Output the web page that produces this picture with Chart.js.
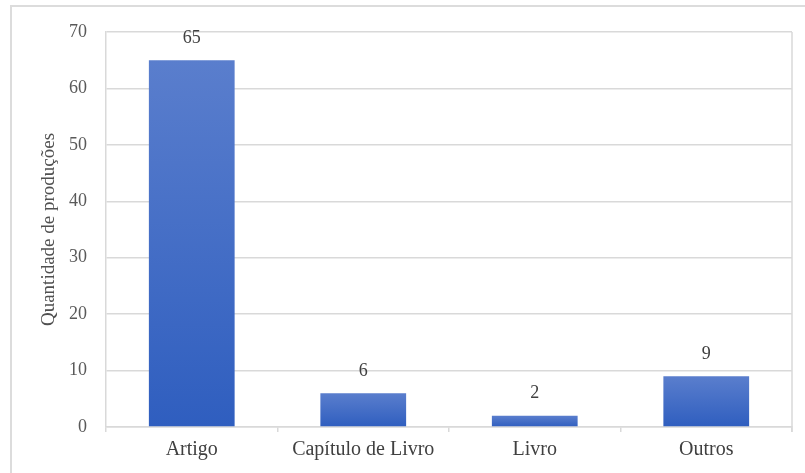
<!DOCTYPE html>
<html>
<head>
<meta charset="utf-8">
<script src="https://cdn.jsdelivr.net/npm/chart.js@4"></script>
<style>
  html, body { margin: 0; padding: 0; background: #ffffff; }
  #wrap { position: relative; width: 805px; height: 473px; overflow: hidden; }
  #frame { position: absolute; left: 10px; top: 5px; width: 820px; height: 500px;
           border-top: 2px solid #dcdcdc; border-left: 2px solid #dcdcdc; box-sizing: border-box; }
  canvas { position: absolute; left: 0; top: 0; }
</style>
</head>
<body>
<div id="wrap">
  <div id="frame"></div>
  <canvas id="chart" width="805" height="473"></canvas>
</div>
<script>
// Production counts by type
const categories = ['Artigo', 'Capítulo de Livro', 'Livro', 'Outros'];
const quantities = [65, 6, 2, 9];
const yTicks = [0, 10, 20, 30, 40, 50, 60, 70];
const yTitle = 'Quantidade de produções';

const FONT = '"Liberation Serif", "Times New Roman", serif';
const GRID = '#d9d9d9';

// Vertical gradient per bar: lighter at the top, deeper at the base
function barGradient(context) {
  const chart = context.chart;
  const { ctx, chartArea, scales } = chart;
  if (!chartArea || context.type !== 'data') return '#4169c6';
  const top = scales.y.getPixelForValue(context.raw);
  const base = scales.y.getPixelForValue(0);
  const g = ctx.createLinearGradient(0, top, 0, base);
  g.addColorStop(0, '#5a7ecd');
  g.addColorStop(1, '#2f5ebf');
  return g;
}

// Value labels above the bars and the right-hand edge of the plot
const decorations = {
  id: 'decorations',
  afterDatasetsDraw(chart) {
    const { ctx, chartArea } = chart;
    ctx.save();
    ctx.strokeStyle = GRID;
    ctx.lineWidth = 1.5;
    ctx.beginPath();
    ctx.moveTo(chartArea.right, chartArea.top);
    ctx.lineTo(chartArea.right, chartArea.bottom + 5);
    ctx.stroke();

    const meta = chart.getDatasetMeta(0);
    ctx.fillStyle = '#404040';
    ctx.font = '18px ' + FONT;
    ctx.textAlign = 'center';
    ctx.textBaseline = 'middle';
    meta.data.forEach((bar, i) => {
      ctx.fillText(String(quantities[i]), bar.x, bar.y - 22);
    });
    ctx.restore();
  }
};

new Chart(document.getElementById('chart'), {
  type: 'bar',
  data: {
    labels: categories,
    datasets: [{
      data: quantities,
      backgroundColor: barGradient,
      borderWidth: 0,
      barPercentage: 0.5,
      categoryPercentage: 1.0
    }]
  },
  options: {
    responsive: false,
    animation: false,
    devicePixelRatio: 1,
    layout: { padding: { left: 30, top: 32, right: 13, bottom: 0 } },
    plugins: { legend: { display: false }, tooltip: { enabled: false } },
    scales: {
      x: {
        grid: { display: true, drawOnChartArea: false, drawTicks: true, tickLength: 5,
                offset: true, color: GRID, tickColor: GRID, lineWidth: 1.5 },
        border: { display: true, color: GRID, width: 1.5 },
        ticks: { color: '#404040', font: { family: FONT, size: 20 }, padding: 6 },
        afterFit(scale) { scale.height = 46; }
      },
      y: {
        min: 0,
        max: 70,
        afterBuildTicks(scale) { scale.ticks = yTicks.map(v => ({ value: v })); },
        grid: { color: GRID, lineWidth: 1.5, drawTicks: false },
        border: { display: true, color: GRID, width: 1.5 },
        ticks: { color: '#595959', font: { family: FONT, size: 18 }, padding: 19 },
        title: { display: true, text: yTitle, color: '#505050',
                 font: { family: FONT, size: 19 }, padding: { top: 8, bottom: 0 } },
        afterFit(scale) { scale.width = 76; }
      }
    }
  },
  plugins: [decorations]
});
</script>
</body>
</html>
